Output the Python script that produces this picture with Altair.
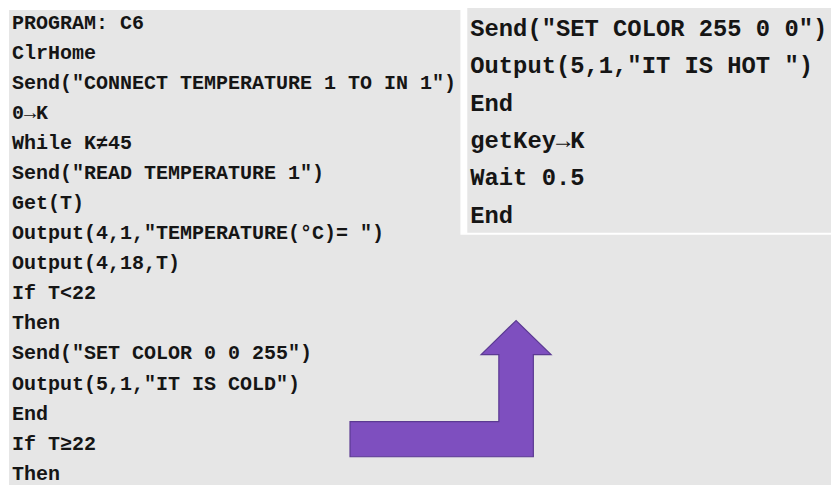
import altair as alt
import pandas as pd

# ---- content ----
left_lines = [
    "PROGRAM: C6",
    "ClrHome",
    "Send(\"CONNECT TEMPERATURE 1 TO IN 1\")",
    "0\u2192K",
    "While K\u226045",
    "Send(\"READ TEMPERATURE 1\")",
    "Get(T)",
    "Output(4,1,\"TEMPERATURE(\u00b0C)= \")",
    "Output(4,18,T)",
    "If T<22",
    "Then",
    "Send(\"SET COLOR 0 0 255\")",
    "Output(5,1,\"IT IS COLD\")",
    "End",
    "If T\u226522",
    "Then",
]
right_lines = [
    "Send(\"SET COLOR 255 0 0\")",
    "Output(5,1,\"IT IS HOT \")",
    "End",
    "getKey\u2192K",
    "Wait 0.5",
    "End",
]

# arrow outline vertices (picture coordinates)
arrow_x = [351, 351, 502, 502, 484, 519.5, 555, 537, 537]
arrow_y = [464, 428, 428, 359, 359, 324, 359, 359, 464]

# panels: left x, right x, top y, bottom y, fill
panel_x1 = [5, 463, 470]
panel_x2 = [839, 839, 839]
panel_y1 = [5, 0, 3]
panel_y2 = [493, 236, 234]
panel_fill = ["#e6e6e6", "#ffffff", "#e6e6e6"]

# ---- tables ----
left_df = pd.DataFrame({
    "text": left_lines,
    "x": [8] * len(left_lines),
    "y": [18 + i * 30.9 for i in range(len(left_lines))],
})
right_df = pd.DataFrame({
    "text": right_lines,
    "x": [473] * len(right_lines),
    "y": [24.5 + i * 38.4 for i in range(len(right_lines))],
})
arrow_df = pd.DataFrame({"x": arrow_x, "y": arrow_y, "o": list(range(len(arrow_x)))})
panel_df = pd.DataFrame({"x": panel_x1, "x2": panel_x2, "y": panel_y1, "y2": panel_y2,
                         "fill": panel_fill})

W, H = 823, 477
xs = alt.Scale(domain=[4, 839], nice=False, zero=False)
ys = alt.Scale(domain=[3, 493], nice=False, zero=False, reverse=True)

X = lambda f: alt.X(f, type="quantitative", scale=xs, axis=None)
Y = lambda f: alt.Y(f, type="quantitative", scale=ys, axis=None)

panels = alt.Chart(panel_df).mark_rect(strokeWidth=0, clip=True).encode(
    x=X("x"), x2="x2", y=Y("y"), y2="y2",
    fill=alt.Fill("fill:N", scale=None),
)

font = "Courier New, Liberation Mono, monospace"

left_text = alt.Chart(left_df).mark_text(
    align="left", baseline="middle", font=font, fontWeight="bold",
    fontSize=20, color="#151515",
).encode(x=X("x"), y=Y("y"), text="text:N")

right_text = alt.Chart(right_df).mark_text(
    align="left", baseline="middle", font=font, fontWeight="bold",
    fontSize=23.8, color="#151515",
).encode(x=X("x"), y=Y("y"), text="text:N")

arrow = alt.Chart(arrow_df).mark_line(
    interpolate="linear-closed", fill="#7e4fbf", stroke="#5b3a92",
    strokeWidth=1.2, fillOpacity=1,
).encode(x=X("x"), y=Y("y"), order="o:Q")

chart = alt.layer(panels, left_text, right_text, arrow).properties(
    width=W, height=H, padding=0, autosize=alt.AutoSizeParams(type="none"),
).configure_view(stroke=None)

chart.save("out.html", embed_options={"renderer": "svg", "actions": False})
